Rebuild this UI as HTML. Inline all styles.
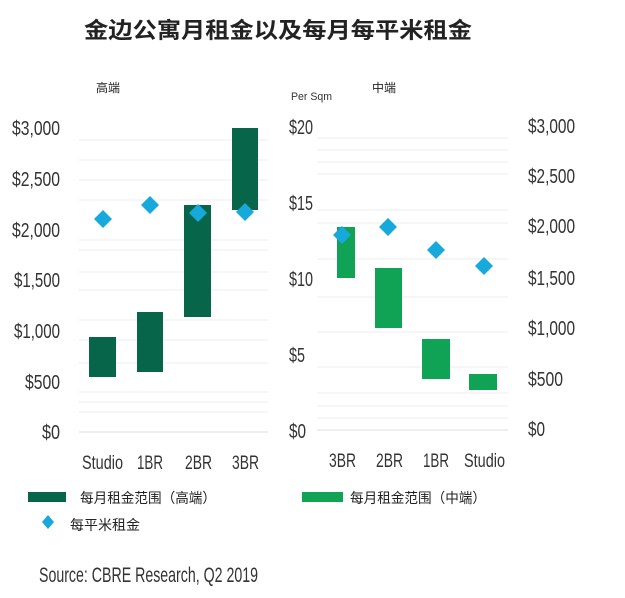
<!DOCTYPE html>
<html><head><meta charset="utf-8"><style>
html,body{margin:0;padding:0;background:#fff;}
svg{display:block;}
.n{font-family:"Liberation Sans Narrow","Liberation Sans",sans-serif;fill:#333;}
.c{font-family:"Liberation Sans","Noto Sans CJK SC",sans-serif;fill:#222;}
</style></head><body>
<svg width="625" height="598" viewBox="0 0 625 598" xmlns="http://www.w3.org/2000/svg">
<rect width="625" height="598" fill="#fff"/>
<text x="84" y="38" class="c" font-size="22" font-weight="bold" fill="#111" textLength="388" lengthAdjust="spacingAndGlyphs">金边公寓月租金以及每月每平米租金</text>
<text x="96" y="92" class="c" font-size="12">高端</text>
<text x="372" y="92" class="c" font-size="12">中端</text>
<text x="291" y="100" class="n" font-size="11" textLength="41" lengthAdjust="spacingAndGlyphs">Per Sqm</text>
<g stroke="#ececec" stroke-width="1">
<line x1="79" x2="268" y1="140" y2="140"/><line x1="79" x2="268" y1="160" y2="160"/><line x1="79" x2="268" y1="180" y2="180"/><line x1="79" x2="268" y1="200" y2="200"/><line x1="79" x2="268" y1="240" y2="240"/><line x1="79" x2="268" y1="250" y2="250"/><line x1="79" x2="268" y1="272" y2="272"/><line x1="79" x2="268" y1="290" y2="290"/><line x1="79" x2="268" y1="320" y2="320"/><line x1="79" x2="268" y1="340" y2="340"/><line x1="79" x2="268" y1="363" y2="363"/><line x1="79" x2="268" y1="392" y2="392"/><line x1="79" x2="268" y1="402" y2="402"/><line x1="79" x2="268" y1="412" y2="412"/>
<line x1="317" x2="508" y1="138" y2="138"/><line x1="317" x2="508" y1="150" y2="150"/><line x1="317" x2="508" y1="162" y2="162"/><line x1="317" x2="508" y1="174" y2="174"/><line x1="317" x2="508" y1="210" y2="210"/><line x1="317" x2="508" y1="223" y2="223"/><line x1="317" x2="508" y1="259" y2="259"/><line x1="317" x2="508" y1="297" y2="297"/><line x1="317" x2="508" y1="332" y2="332"/><line x1="317" x2="508" y1="367" y2="367"/><line x1="317" x2="508" y1="393" y2="393"/><line x1="317" x2="508" y1="406" y2="406"/><line x1="317" x2="508" y1="418" y2="418"/>
</g>
<line x1="79" x2="268" y1="432" y2="432" stroke="#ddd"/>
<line x1="317" x2="508" y1="430" y2="430" stroke="#ddd"/>
<g class="n" font-size="20">
<text x="12" y="135" textLength="48" lengthAdjust="spacingAndGlyphs">$3,000</text>
<text x="12" y="186" textLength="48" lengthAdjust="spacingAndGlyphs">$2,500</text>
<text x="12" y="237" textLength="48" lengthAdjust="spacingAndGlyphs">$2,000</text>
<text x="14" y="287" textLength="46" lengthAdjust="spacingAndGlyphs">$1,500</text>
<text x="14" y="338" textLength="46" lengthAdjust="spacingAndGlyphs">$1,000</text>
<text x="25" y="389" textLength="35" lengthAdjust="spacingAndGlyphs">$500</text>
<text x="42" y="439" textLength="18" lengthAdjust="spacingAndGlyphs">$0</text>
<text x="289" y="134" textLength="24" lengthAdjust="spacingAndGlyphs">$20</text>
<text x="289" y="210" textLength="24" lengthAdjust="spacingAndGlyphs">$15</text>
<text x="289" y="286" textLength="24" lengthAdjust="spacingAndGlyphs">$10</text>
<text x="289" y="362" textLength="16" lengthAdjust="spacingAndGlyphs">$5</text>
<text x="289" y="438" textLength="17" lengthAdjust="spacingAndGlyphs">$0</text>
<text x="528" y="133" textLength="47" lengthAdjust="spacingAndGlyphs">$3,000</text>
<text x="528" y="183" textLength="47" lengthAdjust="spacingAndGlyphs">$2,500</text>
<text x="528" y="233" textLength="47" lengthAdjust="spacingAndGlyphs">$2,000</text>
<text x="528" y="285" textLength="47" lengthAdjust="spacingAndGlyphs">$1,500</text>
<text x="528" y="335" textLength="47" lengthAdjust="spacingAndGlyphs">$1,000</text>
<text x="528" y="386" textLength="35" lengthAdjust="spacingAndGlyphs">$500</text>
<text x="528" y="436" textLength="17" lengthAdjust="spacingAndGlyphs">$0</text>
</g>
<g class="n" font-size="19">
<text x="82" y="469" textLength="41" lengthAdjust="spacingAndGlyphs">Studio</text>
<text x="137" y="469" textLength="26" lengthAdjust="spacingAndGlyphs">1BR</text>
<text x="185" y="469" textLength="27" lengthAdjust="spacingAndGlyphs">2BR</text>
<text x="232" y="469" textLength="27" lengthAdjust="spacingAndGlyphs">3BR</text>
<text x="329" y="467" textLength="27" lengthAdjust="spacingAndGlyphs">3BR</text>
<text x="376" y="467" textLength="27" lengthAdjust="spacingAndGlyphs">2BR</text>
<text x="423" y="467" textLength="26" lengthAdjust="spacingAndGlyphs">1BR</text>
<text x="464" y="467" textLength="41" lengthAdjust="spacingAndGlyphs">Studio</text>
</g>
<g fill="#07664a">
<rect x="89" y="337" width="27" height="40"/><rect x="137" y="312" width="26" height="60"/><rect x="184" y="205" width="27" height="112"/><rect x="232" y="128" width="26" height="82"/>
</g>
<g fill="#10a355">
<rect x="337" y="227" width="18" height="51"/><rect x="375" y="268" width="27" height="60"/><rect x="422" y="339" width="28" height="40"/><rect x="469" y="374" width="28" height="16"/>
</g>
<g fill="#17a9dc">
<path d="M103 210l9 9-9 9-9-9z"/><path d="M150 196l9 9-9 9-9-9z"/><path d="M198 204l9 9-9 9-9-9z"/><path d="M245 203l9 9-9 9-9-9z"/>
<path d="M342 226l9 9-9 9-9-9z"/><path d="M388 218l9 9-9 9-9-9z"/><path d="M436 241l9 9-9 9-9-9z"/><path d="M484 257l9 9-9 9-9-9z"/>
</g>
<rect x="28" y="492" width="38" height="10" fill="#07664a"/>
<text x="80" y="503" class="c" font-size="14" textLength="136" lengthAdjust="spacingAndGlyphs">每月租金范围（高端）</text>
<rect x="302" y="492" width="41" height="10" fill="#10a355"/>
<text x="350" y="503" class="c" font-size="14" textLength="136" lengthAdjust="spacingAndGlyphs">每月租金范围（中端）</text>
<path d="M48 515l6 7-6 7-6-7z" fill="#17a9dc"/>
<text x="70" y="530" class="c" font-size="14">每平米租金</text>
<text x="39" y="582" class="n" font-size="21" textLength="219" lengthAdjust="spacingAndGlyphs">Source: CBRE Research, Q2 2019</text>
</svg>
</body></html>
